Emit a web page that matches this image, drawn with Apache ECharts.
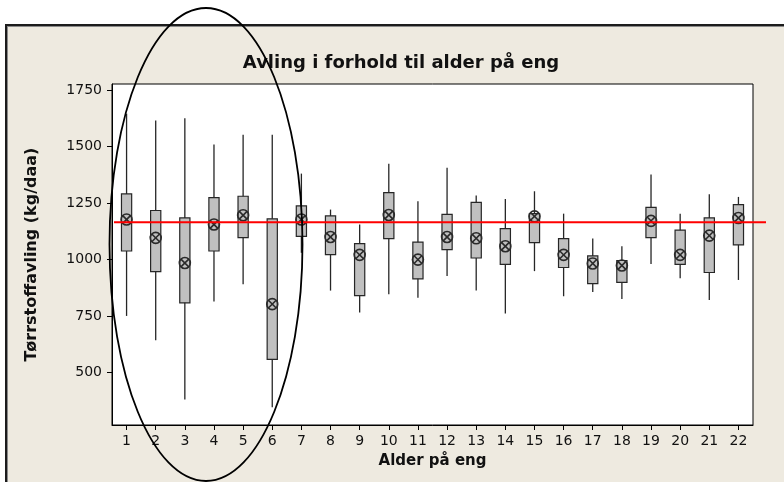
<!DOCTYPE html>
<html>
<head>
<meta charset="utf-8">
<script src="https://cdn.jsdelivr.net/npm/echarts@6/dist/echarts.min.js"></script>
<style>
  html, body { margin: 0; padding: 0; background: #ffffff; overflow: hidden; }
  #wrap { position: relative; width: 784px; height: 482px; overflow: hidden; }
  #panel {
    position: absolute; left: 5px; top: 24px; width: 820px; height: 520px;
    background: #EEEAE0;
    border-top: 2px solid #1c1c1c; border-left: 2px solid #1c1c1c;
    box-shadow: inset 1px 1px 0 #8a8a8a;
  }
  #chart { position: absolute; left: 0; top: 0; width: 784px; height: 482px; }
</style>
</head>
<body>
<div id="wrap">
  <div id="panel"></div>
  <div id="chart"></div>
</div>
<script>
// Grass age (years) on the x axis
const ages = ['1','2','3','4','5','6','7','8','9','10','11','12','13','14','15','16','17','18','19','20','21','22'];

// Dry-matter yield per age group (kg/daa)
const whiskerHigh = [1645, 1615, 1625, 1509, 1552, 1552, 1380, 1221, 1155, 1424, 1258, 1406, 1283, 1268, 1302, 1203, 1093, 1059, 1376, 1203, 1289, 1277];
const boxHigh     = [1290, 1217, 1184, 1274, 1280, 1180, 1237, 1193, 1071, 1296, 1077, 1200, 1253, 1137, 1203, 1093, 1016,  996, 1231, 1130, 1184, 1243];
const boxLow      = [1038,  947,  809, 1038, 1097,  559, 1103, 1022,  841, 1093,  915, 1044, 1007,  979, 1075,  965,  894,  899, 1097,  979,  943, 1065];
const whiskerLow  = [ 751,  644,  382,  815,  891,  347, 1030,  863,  766,  847,  831,  928,  863,  762,  949,  838,  857,  826,  981,  918,  821,  910];
const means       = [1177, 1096,  985, 1155, 1196,  803, 1177, 1100, 1021, 1197, 1000, 1100, 1094, 1059, 1191, 1021,  983,  974, 1171, 1021, 1106, 1184];

// Overall mean yield, drawn as the red reference line
const overallMean = 1165;

// Value axis range and labelled ticks
const yMin = 269;
const yMax = 1776;
const yTicks = [500, 750, 1000, 1250, 1500, 1750];

const FONT = 'DejaVu Sans';

const boxData = ages.map((a, i) => [i, whiskerLow[i], boxLow[i], boxHigh[i], whiskerHigh[i]]);
const meanData = ages.map((a, i) => [i, means[i]]);

const chart = echarts.init(document.getElementById('chart'), null, { renderer: 'canvas' });

chart.setOption({
  backgroundColor: 'transparent',
  animation: false,
  title: {
    text: 'Avling i forhold til alder på eng',
    left: 396,
    textAlign: 'center',
    top: 49,
    textStyle: { fontFamily: FONT, fontSize: 18, fontWeight: 'bold', color: '#111' }
  },
  grid: {
    left: 112, top: 84, width: 641, height: 341,
    show: true, backgroundColor: '#ffffff', borderColor: '#000', borderWidth: 1
  },
  xAxis: {
    type: 'category',
    data: ages,
    boundaryGap: true,
    name: 'Alder på eng',
    nameLocation: 'middle',
    nameGap: 29,
    nameTextStyle: { fontFamily: FONT, fontSize: 15, fontWeight: 'bold', color: '#111' },
    axisLine: { show: true, lineStyle: { color: '#000', width: 1 } },
    axisTick: { show: true, alignWithLabel: true, length: 5, lineStyle: { color: '#000' } },
    axisLabel: { fontFamily: FONT, fontSize: 14, color: '#111', margin: 9, interval: 0 },
    splitLine: { show: false }
  },
  yAxis: {
    type: 'value',
    min: yMin,
    max: yMax,
    name: 'Tørrstoffavling (kg/daa)',
    nameLocation: 'middle',
    nameGap: 72,
    nameTextStyle: { fontFamily: FONT, fontSize: 16, fontWeight: 'bold', color: '#111' },
    axisLine: { show: true, lineStyle: { color: '#000', width: 1 } },
    axisTick: { show: true, length: 5, customValues: yTicks, lineStyle: { color: '#000' } },
    axisLabel: {
      fontFamily: FONT, fontSize: 14, color: '#111', margin: 10, customValues: yTicks,
      formatter: function (v) { return String(v); }
    },
    splitLine: { show: false }
  },
  series: [
    {
      name: 'boks',
      type: 'custom',
      data: boxData,
      encode: { x: 0, y: [1, 2, 3, 4] },
      z: 2,
      renderItem: function (params, api) {
        const x = api.value(0);
        const pLow = api.coord([x, api.value(1)]);
        const pQ1 = api.coord([x, api.value(2)]);
        const pQ3 = api.coord([x, api.value(3)]);
        const pHigh = api.coord([x, api.value(4)]);
        const w = api.size([1, 0])[0] * 0.35;
        return {
          type: 'group',
          children: [
            { type: 'line', shape: { x1: pLow[0], y1: pLow[1], x2: pHigh[0], y2: pHigh[1] },
              style: { stroke: '#262626', lineWidth: 1.3 } },
            { type: 'rect', shape: { x: pQ3[0] - w / 2, y: pQ3[1], width: w, height: pQ1[1] - pQ3[1] },
              style: { fill: '#c0c0c0', stroke: '#262626', lineWidth: 1.2 } }
          ]
        };
      }
    },
    {
      name: 'gjennomsnitt',
      type: 'custom',
      data: meanData,
      encode: { x: 0, y: 1 },
      z: 3,
      renderItem: function (params, api) {
        const p = api.coord([api.value(0), api.value(1)]);
        const r = 5.5;
        const d = r * 0.7071;
        const st = { stroke: '#2a2a2a', lineWidth: 1.6, fill: null };
        return {
          type: 'group',
          children: [
            { type: 'circle', shape: { cx: p[0], cy: p[1], r: r }, style: st },
            { type: 'line', shape: { x1: p[0] - d, y1: p[1] - d, x2: p[0] + d, y2: p[1] + d }, style: st },
            { type: 'line', shape: { x1: p[0] - d, y1: p[1] + d, x2: p[0] + d, y2: p[1] - d }, style: st }
          ]
        };
      }
    }
  ]
});

// Reference line at the overall mean, running slightly past the plot frame
const refY = chart.convertToPixel({ yAxisIndex: 0 }, overallMean);
chart.setOption({
  graphic: [
    {
      type: 'line', z: 10,
      shape: { x1: 114, y1: refY, x2: 766, y2: refY },
      style: { stroke: '#ff0000', lineWidth: 2 }
    },
    {
      // Hand-drawn ring around the first six age groups
      type: 'ellipse', z: 11,
      shape: { cx: 206, cy: 244.5, rx: 96.5, ry: 236.5 },
      style: { fill: null, stroke: '#000', lineWidth: 1.8 }
    }
  ]
});
</script>
</body>
</html>
